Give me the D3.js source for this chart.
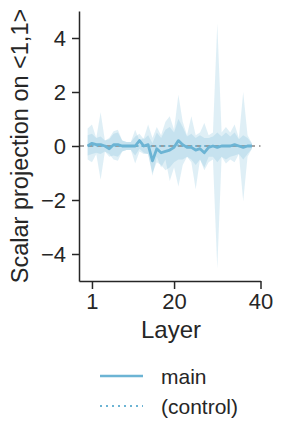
<!DOCTYPE html>
<html>
<head>
<meta charset="utf-8">
<script src="https://cdn.jsdelivr.net/npm/d3@7"></script>
<style>
  body { margin: 0; background: #fff; }
  text { font-family: "Liberation Sans", Arial, sans-serif; fill: #262626; }
</style>
</head>
<body>
<div class="chart"></div>
<script>
// data
const layers = [0,1,2,3,4,5,6,7,8,9,10,11,12,13,14,15,16,17,18,19,20,21,22,23,24,25,26,27,28,29,30,31,32,33,34,35,36,37,38];

const mainMean = [0.0,0.1,0.05,0.05,0.0,-0.1,0.05,0.05,0.0,0.0,0.0,0.0,0.2,0.0,0.05,-0.55,-0.1,-0.25,-0.2,-0.15,-0.05,0.2,0.05,-0.05,-0.05,-0.15,-0.1,-0.25,-0.05,0.0,-0.05,0.0,0.0,0.0,0.05,0.0,-0.05,0.0,0.0];
const mainHi   = [0.4,0.45,0.3,0.35,0.2,0.25,0.45,0.5,0.2,0.15,0.15,0.35,0.45,0.25,0.4,0.1,0.5,0.3,0.6,0.7,0.5,1.0,0.7,0.35,0.45,0.3,0.4,0.3,0.3,0.35,0.5,0.35,0.5,0.35,0.5,0.25,0.4,0.3,0.1];
const mainLo   = [-0.35,-0.3,-0.25,-0.3,-0.2,-0.4,-0.35,-0.4,-0.2,-0.15,-0.15,-0.35,-0.1,-0.25,-0.3,-1.0,-0.6,-0.7,-0.9,-0.8,-0.6,-0.5,-0.5,-0.4,-0.5,-0.7,-0.5,-0.8,-0.4,-0.4,-0.6,-0.4,-0.5,-0.4,-0.35,-0.3,-0.5,-0.3,-0.1];

const ctrlMean = [0.0,0.02,0.0,0.0,0.0,-0.02,0.0,0.0,0.0,0.0,0.0,0.0,0.0,0.0,0.02,-0.02,0.0,0.0,0.0,0.0,0.0,0.02,0.0,0.0,0.0,0.0,0.0,0.0,0.0,0.0,0.0,0.0,0.0,0.0,0.0,0.0,0.0,0.0,0.0];
const ctrlHi   = [0.65,0.8,0.3,1.25,0.2,0.3,0.55,0.6,0.2,0.15,0.15,0.6,0.2,0.3,0.8,0.3,0.7,0.4,0.9,1.1,0.6,1.9,0.9,0.4,1.1,0.4,0.5,0.85,0.4,0.5,4.55,0.5,0.7,0.5,0.8,0.3,2.0,0.4,0.1];
const ctrlLo   = [-0.5,-0.6,-0.3,-1.25,-0.2,-0.3,-0.5,-0.55,-0.2,-0.15,-0.15,-0.65,-0.2,-0.3,-0.3,-1.1,-0.4,-0.8,-0.5,-1.3,-0.8,-1.5,-0.7,-0.4,-0.6,-1.6,-0.5,-0.9,-0.6,-0.5,-4.55,-0.4,-0.65,-0.5,-0.6,-0.3,-2.05,-0.4,-0.1];

const xTicks = [1, 20, 40];
const yTicks = [-4, -2, 0, 2, 4];
const legendLabels = ["main", "(control)"];

const color = "#6cb4d4";

const W = 284, H = 438;
const svg = d3.select(".chart").append("svg")
    .attr("width", W)
    .attr("height", H);

const xScale = d3.scaleLinear().domain([-2, 40]).range([79, 260.5]);
const yScale = d3.scaleLinear().domain([-5, 5]).range([281, 11]);

// layer index 0 sits just left of tick "1"
const xOf = i => xScale(layers[i]);

function band(hi, lo) {
    return d3.area()
        .x((d, i) => xOf(i))
        .y0((d, i) => yScale(lo[i]))
        .y1((d, i) => yScale(hi[i]))(layers);
}

svg.append("path")
    .attr("d", band(ctrlHi, ctrlLo))
    .attr("fill", color)
    .attr("fill-opacity", 0.22);

svg.append("path")
    .attr("d", band(mainHi, mainLo))
    .attr("fill", color)
    .attr("fill-opacity", 0.22);

// zero reference
svg.append("line")
    .attr("x1", xScale(-2)).attr("x2", xScale(40))
    .attr("y1", yScale(0)).attr("y2", yScale(0))
    .attr("stroke", "#888")
    .attr("stroke-width", 1.5)
    .attr("stroke-dasharray", "5,4");

const line = vals => d3.line()
    .x((d, i) => xOf(i))
    .y((d, i) => yScale(vals[i]))(layers);

svg.append("path")
    .attr("d", line(ctrlMean))
    .attr("fill", "none")
    .attr("stroke", color)
    .attr("stroke-width", 2)
    .attr("stroke-dasharray", "1.5,3");

svg.append("path")
    .attr("d", line(mainMean))
    .attr("fill", "none")
    .attr("stroke", color)
    .attr("stroke-width", 2.8)
    .attr("stroke-linejoin", "round");

// axes
const xAxis = d3.axisBottom(xScale).tickValues(xTicks).tickSize(8).tickPadding(4).tickSizeOuter(0);
const yAxis = d3.axisLeft(yScale).tickValues(yTicks).tickSize(7).tickPadding(6).tickSizeOuter(0)
    .tickFormat(d => d < 0 ? "\u2212" + Math.abs(d) : d);

const xAxGr = svg.append("g").attr("transform", "translate(0,281)").call(xAxis);
const yAxGr = svg.append("g").attr("transform", "translate(79,0)").call(yAxis);

[xAxGr, yAxGr].forEach(g => {
    g.select(".domain").attr("stroke", "#262626").attr("stroke-width", 1.5);
    g.selectAll(".tick line").attr("stroke", "#262626").attr("stroke-width", 1.5);
    g.selectAll(".tick text").attr("font-size", 22).attr("fill", "#262626")
        .style("font-family", '"Liberation Sans", Arial, sans-serif');
});

// axis labels
svg.append("text")
    .attr("x", 171).attr("y", 338)
    .attr("text-anchor", "middle")
    .attr("font-size", 24)
    .text("Layer");

svg.append("text")
    .attr("transform", "translate(28,146) rotate(-90)")
    .attr("text-anchor", "middle")
    .attr("font-size", 23.5)
    .text("Scalar projection on <1,1>");

// legend
const leg = svg.append("g");
legendLabels.forEach((lab, i) => {
    const y = 376 + i * 30;
    leg.append("line")
        .attr("x1", 100).attr("x2", 143)
        .attr("y1", y).attr("y2", y)
        .attr("stroke", color)
        .attr("stroke-width", i === 0 ? 2.5 : 2)
        .attr("stroke-dasharray", i === 0 ? null : "2,4");
    leg.append("text")
        .attr("x", 161).attr("y", y + 8)
        .attr("font-size", 21)
        .text(lab);
});
</script>
</body>
</html>
